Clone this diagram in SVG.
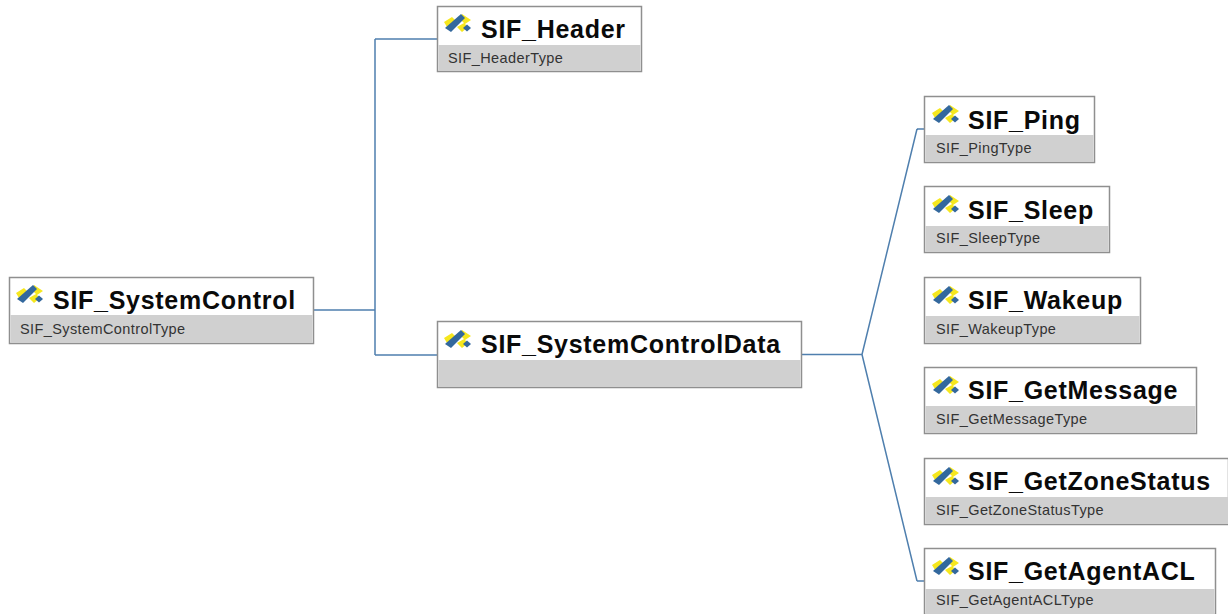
<svg xmlns="http://www.w3.org/2000/svg" width="1228" height="614" viewBox="0 0 1228 614">
<style>
.box{fill:#fff;stroke:#8f8f8f;stroke-width:1.5}
.band{fill:#d0d0d0}
.t{font-family:"Liberation Sans",Arial,sans-serif;font-weight:700;font-size:25px;fill:#0a0a0a;letter-spacing:.72px}
.s{font-family:"Liberation Sans",Arial,sans-serif;font-size:14.5px;fill:#333;letter-spacing:.4px}
.c{fill:none;stroke:#4f7fae;stroke-width:1.5}
</style>
<defs>
<g id="icon">
<path d="M0 9 L8 4 L12 8 L3 14Z M18 1 L27 7 L21 11 L16 6Z M13 14 L20 10 L24 14 L18 19Z" fill="#f6e71e"/>
<path d="M1 15 L17 1 L21 5 L7 19Z" fill="#33689d"/>
<path d="M19 15 L23 11.500 L27 15 L23 18.500Z" fill="#33689d"/>
</g>
</defs>
<rect width="1228" height="614" fill="#fff"/>
<g id="connectors">
<path class="c" d="M314 310H375M375 39V355M375 39H437M375 355H437"/>
<path class="c" d="M801 354.500H862M917 129H924M862 354.500L917 129M862 354.500L917 581M917 581H924"/>
</g>
<g id="n-systemcontrol"><rect class="box" x="9.500" y="277.500" width="304" height="66"/><rect class="band" x="10.500" y="315" width="302" height="28"/><use href="#icon" x="16" y="284"/><text class="t" x="53" y="309">SIF_SystemControl</text><text class="s" x="20" y="334">SIF_SystemControlType</text></g>
<g id="n-header"><rect class="box" x="437.500" y="6.500" width="204" height="65"/><rect class="band" x="438.500" y="45" width="202" height="26"/><use href="#icon" x="444" y="13"/><text class="t" x="481" y="38">SIF_Header</text><text class="s" x="448" y="63">SIF_HeaderType</text></g>
<g id="n-data"><rect class="box" x="437.500" y="321.500" width="364" height="66"/><rect class="band" x="438.500" y="360" width="362" height="27"/><use href="#icon" x="444" y="329"/><text class="t" x="481" y="353">SIF_SystemControlData</text></g>
<g id="n-ping"><rect class="box" x="924.500" y="96.500" width="170" height="66"/><rect class="band" x="925.500" y="135" width="168" height="27"/><use href="#icon" x="932" y="104"/><text class="t" x="968" y="129">SIF_Ping</text><text class="s" x="936" y="153">SIF_PingType</text></g>
<g id="n-sleep"><rect class="box" x="924.500" y="186.500" width="185" height="66"/><rect class="band" x="925.500" y="226" width="183" height="26"/><use href="#icon" x="932" y="194"/><text class="t" x="968" y="219">SIF_Sleep</text><text class="s" x="936" y="243">SIF_SleepType</text></g>
<g id="n-wakeup"><rect class="box" x="924.500" y="277.500" width="216" height="66"/><rect class="band" x="925.500" y="316" width="214" height="27"/><use href="#icon" x="932" y="285"/><text class="t" x="968" y="309">SIF_Wakeup</text><text class="s" x="936" y="334">SIF_WakeupType</text></g>
<g id="n-getmessage"><rect class="box" x="924.500" y="367.500" width="272" height="66"/><rect class="band" x="925.500" y="406" width="270" height="27"/><use href="#icon" x="932" y="375"/><text class="t" x="968" y="399">SIF_GetMessage</text><text class="s" x="936" y="424">SIF_GetMessageType</text></g>
<g id="n-getzonestatus"><rect class="box" x="924.500" y="458.500" width="304" height="66"/><rect class="band" x="925.500" y="497" width="303" height="27"/><use href="#icon" x="932" y="466"/><text class="t" x="968" y="490">SIF_GetZoneStatus</text><text class="s" x="936" y="515">SIF_GetZoneStatusType</text></g>
<g id="n-getagentacl"><rect class="box" x="924.500" y="548.500" width="291" height="66"/><rect class="band" x="925.500" y="589" width="289" height="25"/><use href="#icon" x="932" y="556"/><text class="t" x="968" y="580">SIF_GetAgentACL</text><text class="s" x="936" y="605">SIF_GetAgentACLType</text></g>
</svg>
